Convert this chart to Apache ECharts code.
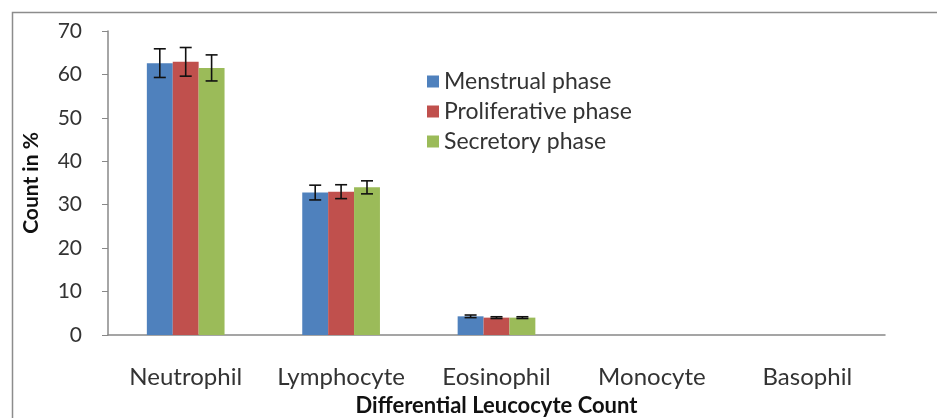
<!DOCTYPE html>
<html>
<head>
<meta charset="utf-8">
<script src="https://cdn.jsdelivr.net/npm/echarts@6/dist/echarts.min.js"></script>
<style>
html,body{margin:0;padding:0;background:#fff;}
#chart{width:937px;height:418px;}
</style>
</head>
<body>
<div id="chart"></div>
<script>
// data
var categories = ['Neutrophil', 'Lymphocyte', 'Eosinophil', 'Monocyte', 'Basophil'];
var seriesNames = ['Menstrual phase', 'Proliferative phase', 'Secretory phase'];
var menstrual = [62.6, 32.8, 4.3, 0, 0];
var proliferative = [62.9, 33.0, 4.0, 0, 0];
var secretory = [61.5, 34.0, 4.0, 0, 0];
var menstrualErr = [3.3, 1.7, 0.3, 0, 0];
var proliferativeErr = [3.3, 1.6, 0.2, 0, 0];
var secretoryErr = [3.0, 1.5, 0.2, 0, 0];
var yTicks = [0, 10, 20, 30, 40, 50, 60, 70];

var colors = ['#4F81BD', '#C0504D', '#9BBB59'];
var values = [menstrual, proliferative, secretory];
var errors = [menstrualErr, proliferativeErr, secretoryErr];
var catGap = 0.5;

function errorSeries(idx){
	var data = [];
	for (var i = 0; i < categories.length; i++) {
		if (errors[idx][i] > 0) {
			data.push([i, values[idx][i] - errors[idx][i], values[idx][i] + errors[idx][i]]);
		}
	}
	return {
		type: 'custom',
		silent: true,
		z: 10,
		data: data,
		renderItem: function(params, api){
			var band = api.size([1, 0])[0];
			var bw = band * (1 - catGap) / 3;
			var off = (idx - 1) * bw;
			var lo = api.coord([api.value(0), api.value(1)]);
			var hi = api.coord([api.value(0), api.value(2)]);
			var x = lo[0] + off;
			var cap = 6;
			var st = {stroke: '#111', lineWidth: 1.6};
			return {
				type: 'group',
				children: [
					{type: 'line', shape: {x1: x, y1: lo[1], x2: x, y2: hi[1]}, style: st},
					{type: 'line', shape: {x1: x - cap, y1: lo[1], x2: x + cap, y2: lo[1]}, style: st},
					{type: 'line', shape: {x1: x - cap, y1: hi[1], x2: x + cap, y2: hi[1]}, style: st}
				]
			};
		}
	};
}

var myChart = echarts.init(document.getElementById('chart'));
var font = 'Lato, sans-serif';
var series = [];
for (var s = 0; s < 3; s++) {
	series.push({
		name: seriesNames[s],
		type: 'bar',
		data: values[s],
		barGap: 0,
		barCategoryGap: (catGap * 100) + '%',
		itemStyle: {color: colors[s]}
	});
}
for (var s2 = 0; s2 < 3; s2++) {
	series.push(errorSeries(s2));
}

var option = {
	animation: false,
	textStyle: {fontFamily: font},
	graphic: [{
		type: 'rect',
		left: 10, top: 10,
		shape: {width: 960, height: 440},
		style: {fill: 'none', stroke: '#8c8c8c', lineWidth: 1.5},
		silent: true
	}],
	legend: {
		data: seriesNames.map(function(n, i){ return {name: n, itemStyle: {color: colors[i]}}; }),
		orient: 'vertical',
		left: 422,
		top: 65,
		itemWidth: 12,
		itemHeight: 12,
		itemGap: 7,
		icon: 'rect',
		textStyle: {fontFamily: font, fontSize: 23, color: '#333'}
	},
	grid: {left: 108, right: 52, top: 31, bottom: 83, containLabel: false, outerBoundsMode: 'none'},
	xAxis: {
		type: 'category',
		data: categories,
		name: 'Differential Leucocyte Count',
		nameLocation: 'middle',
		nameGap: 60,
		nameTextStyle: {fontFamily: font, fontSize: 22, fontWeight: 'bold', color: '#111'},
		axisLine: {lineStyle: {color: '#888', width: 1.5}},
		axisTick: {show: false},
		axisLabel: {fontFamily: font, fontSize: 24, color: '#333', margin: 30, interval: 0}
	},
	yAxis: {
		type: 'value',
		min: yTicks[0],
		max: yTicks[yTicks.length - 1],
		interval: 10,
		name: 'Count in %',
		nameLocation: 'middle',
		nameGap: 66,
		nameTextStyle: {fontFamily: font, fontSize: 21, fontWeight: 'bold', color: '#111'},
		axisLine: {show: true, lineStyle: {color: '#888', width: 1.5}},
		axisTick: {show: true, inside: false, length: 6, lineStyle: {color: '#888'}},
		splitLine: {show: false},
		axisLabel: {fontFamily: font, fontSize: 21, color: '#333', margin: 26}
	},
	series: series
};
myChart.setOption(option);
</script>
</body>
</html>
